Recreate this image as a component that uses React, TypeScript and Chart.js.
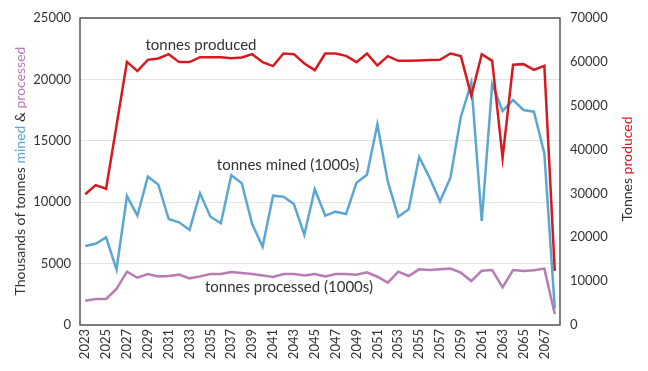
import React, { useEffect, useRef } from "react";
import { Chart, registerables } from "chart.js";

Chart.register(...registerables);

const years: string[] = [];
for (let y = 2023; y <= 2068; y++) years.push(String(y));

const mined = [6430, 6620, 7140, 4530, 10500, 8900, 12080, 11450, 8630, 8360, 7740, 10720, 8820, 8280, 12190, 11540, 8220, 6380, 10530, 10450, 9850, 7350, 11050, 8900, 9230, 9040, 11590, 12240, 16340, 11670, 8820, 9420, 13680, 12000, 10070, 12000, 16960, 19730, 8470, 19600, 17430, 18320, 17510, 17370, 13980, 1360];

const processed = [1980, 2120, 2120, 2930, 4340, 3850, 4150, 3960, 3990, 4100, 3800, 3960, 4150, 4150, 4320, 4230, 4150, 4040, 3910, 4150, 4150, 4040, 4150, 3960, 4150, 4150, 4100, 4290, 3930, 3450, 4340, 3990, 4530, 4480, 4530, 4590, 4260, 3580, 4420, 4480, 3070, 4480, 4400, 4450, 4590, 900];

const produced = [29800, 31900, 31070, 45500, 60000, 57900, 60460, 60760, 61750, 59940, 59940, 61070, 61070, 61070, 60840, 60990, 61750, 59940, 59030, 61900, 61750, 59630, 58110, 61900, 61900, 61370, 59940, 61900, 59180, 61300, 60230, 60230, 60300, 60400, 60460, 61900, 61300, 52280, 61750, 60230, 38120, 59330, 59480, 58190, 59100, 12340];

const RED = "#d71920";
const BLUE = "#5ba7d1";
const PURPLE = "#b77cb4";
const TEXT = "#333333";
const FONT = "Lato, 'Open Sans', sans-serif";

const overlay = {
  id: "overlay",
  afterDraw(chart: any) {
    const ctx = chart.ctx;
    const { left, right, top, bottom } = chart.chartArea;
    ctx.save();
    ctx.strokeStyle = "#555555";
    ctx.lineWidth = 1.5;
    ctx.strokeRect(left, top, right - left, bottom - top);

    ctx.font = `15px ${FONT}`;
    ctx.fillStyle = TEXT;
    ctx.textAlign = "center";
    ctx.textBaseline = "middle";
    ctx.fillText("tonnes produced", 201, 45);
    ctx.fillText("tonnes mined (1000s)", 288, 165);
    ctx.fillText("tonnes processed (1000s)", 289, 287);

    const drawRotated = (parts: [string, string][], cx: number, cy: number) => {
      ctx.save();
      ctx.translate(cx, cy);
      ctx.rotate(-Math.PI / 2);
      ctx.font = `14px ${FONT}`;
      ctx.textBaseline = "middle";
      ctx.textAlign = "left";
      const total = parts.reduce((s, p) => s + ctx.measureText(p[0]).width, 0);
      let x = -total / 2;
      for (const [t, c] of parts) {
        ctx.fillStyle = c;
        ctx.fillText(t, x, 0);
        x += ctx.measureText(t).width;
      }
      ctx.restore();
    };
    drawRotated(
      [
        ["Thousands of tonnes ", TEXT],
        ["mined", BLUE],
        [" & ", TEXT],
        ["processed", PURPLE],
      ],
      20,
      171
    );
    drawRotated(
      [
        ["Tonnes ", TEXT],
        ["produced", RED],
      ],
      627,
      169
    );
    ctx.restore();
  },
};

export default function App() {
  const ref = useRef<HTMLCanvasElement | null>(null);
  useEffect(() => {
    document.body.style.margin = "0";
    const canvas = ref.current!;
    const chart = new Chart(canvas, {
      type: "line",
      data: {
        labels: years,
        datasets: [
          {
            label: "tonnes produced",
            data: produced,
            borderColor: RED,
            borderWidth: 2.5,
            pointRadius: 0,
            yAxisID: "y1",
            tension: 0,
          },
          {
            label: "tonnes mined (1000s)",
            data: mined,
            borderColor: BLUE,
            borderWidth: 2.5,
            pointRadius: 0,
            yAxisID: "y",
            tension: 0,
          },
          {
            label: "tonnes processed (1000s)",
            data: processed,
            borderColor: PURPLE,
            borderWidth: 2.5,
            pointRadius: 0,
            yAxisID: "y",
            tension: 0,
          },
        ],
      },
      options: {
        animation: false,
        responsive: false,
        devicePixelRatio: 1,
        layout: { padding: { top: 18, left: 0, right: 0, bottom: 0 } },
        plugins: {
          legend: { display: false },
          tooltip: { enabled: false },
        },
        scales: {
          x: {
            offset: true,
            grid: { display: false, drawTicks: false },
            border: { display: false },
            ticks: {
              autoSkip: false,
              maxRotation: 90,
              minRotation: 90,
              padding: 4,
              color: TEXT,
              font: { family: FONT, size: 13 },
              callback: (_v: any, i: number) => (i % 2 === 0 ? years[i] : ""),
            },
            afterFit: (s: any) => {
              s.height = 46;
            },
          },
          y: {
            position: "left",
            min: 0,
            max: 25000,
            grid: { color: "#e2e2e2", lineWidth: 1, drawTicks: false },
            border: { display: false },
            ticks: {
              stepSize: 5000,
              padding: 9,
              color: TEXT,
              font: { family: FONT, size: 13 },
              callback: (v: any) => String(v),
            },
            afterFit: (s: any) => {
              s.width = 80;
            },
          },
          y1: {
            position: "right",
            min: 0,
            max: 70000,
            grid: { display: false, drawTicks: false },
            border: { display: false },
            ticks: {
              stepSize: 10000,
              padding: 10,
              color: TEXT,
              font: { family: FONT, size: 13 },
              callback: (v: any) => String(v),
            },
            afterFit: (s: any) => {
              s.width = 88;
            },
          },
        },
      },
      plugins: [overlay],
    });
    return () => chart.destroy();
  }, []);
  return <canvas ref={ref} width={648} height={371} style={{ display: "block" }} />;
}
